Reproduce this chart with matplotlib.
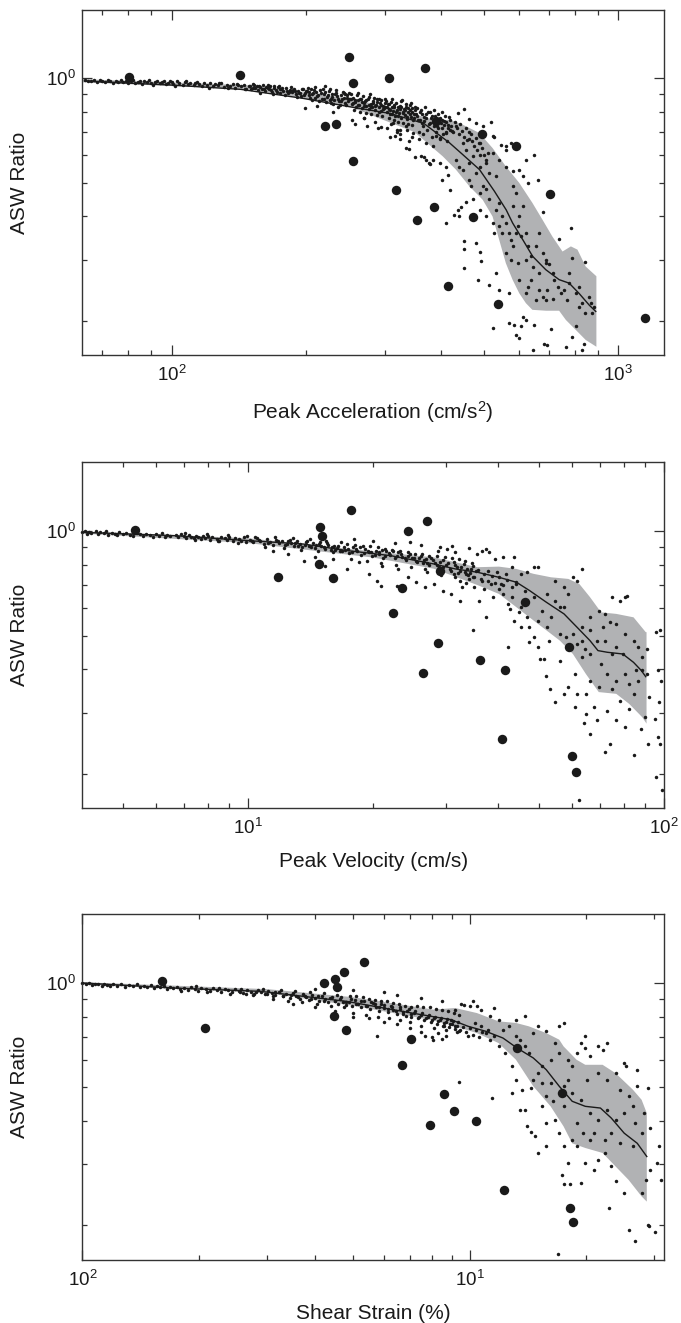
import matplotlib
matplotlib.use("Agg")
import matplotlib.pyplot as plt
from matplotlib.ticker import FixedLocator, FixedFormatter, NullFormatter

plt.rcParams['font.family'] = ['Liberation Sans', 'DejaVu Sans']
plt.rcParams['mathtext.default'] = 'regular'

# ---------------- data ----------------
# common y axis
y_lim = (0.159, 1.58)
y_major = [1.0]
y_major_labels = ['$10^0$']
y_minor = [0.2, 0.3, 0.4, 0.5, 0.6, 0.7, 0.8, 0.9]

# panel 1: peak acceleration
acc_xlim = (63.2, 1265)
acc_xticks = [100, 1000]
acc_xticklabels = ['$10^2$', '$10^3$']
acc_xminor = [70, 80, 90, 200, 300, 400, 500, 600, 700, 800, 900]
acc_big_x = [80.5, 142.6, 249.5, 254.6, 306, 368.5, 220.3, 232.9, 254.6, 318, 387, 354, 473, 390, 494, 591, 703, 416, 537, 1148]
acc_big_y = [1.007, 1.022, 1.154, 0.972, 1.0, 1.073, 0.730, 0.739, 0.579, 0.477, 0.427, 0.392, 0.399, 0.755, 0.690, 0.638, 0.463, 0.252, 0.224, 0.204]
acc_mean_x = [64, 100, 143, 197, 250, 308, 367, 419, 448, 489, 528, 561, 580, 611, 643, 688, 737, 776, 817, 861, 890]
acc_mean_y = [0.982, 0.957, 0.930, 0.876, 0.829, 0.793, 0.742, 0.652, 0.604, 0.546, 0.473, 0.418, 0.383, 0.343, 0.307, 0.281, 0.263, 0.257, 0.240, 0.222, 0.213]
acc_up_x = [63, 150, 250, 330, 391, 419, 448, 488, 523, 560, 600, 642, 676, 712, 750, 783, 810, 845, 893]
acc_up_y = [0.995, 0.955, 0.875, 0.81, 0.753, 0.761, 0.736, 0.697, 0.630, 0.558, 0.50, 0.438, 0.392, 0.350, 0.317, 0.328, 0.321, 0.287, 0.269]
acc_lo_x = [63, 150, 250, 350, 404.5, 433, 464, 497, 523, 541, 560, 580, 600, 621, 642, 689, 737, 763, 803, 845, 893]
acc_lo_y = [0.975, 0.93, 0.83, 0.70, 0.5965, 0.546, 0.489, 0.447, 0.40, 0.343, 0.2935, 0.2626, 0.2404, 0.225, 0.2153, 0.214, 0.214, 0.2013, 0.1884, 0.1763, 0.1685]
acc_dots = [
    (64, .99), (65, .98), (66, .985), (67, .993), (68, .978), (69, .988), (70, .982), (71, .975), (72, .99), (73, .98),
    (74, .972), (75, .986), (76, .979), (77, .99), (78, .974), (79, .984), (80, .968), (81, .98), (82, .988), (83, .972),
    (84, .978), (85, .985), (86, .966), (87, .98), (88, .975), (89, .987), (90, .97), (91, .96), (92, .978), (93, .983),
    (94, .968), (95, .975), (96, .984), (97, .962), (98, .972), (99, .98),
    (100, .975), (101, .962), (102, .95), (103, .98), (104, .968), (106, .958), (107, .975), (108, .985), (109, .965),
    (110, .972), (112, .955), (113, .97), (114, .978), (115, .962), (117, .95), (118, .968), (120, .958), (121, .94),
    (122, .972), (124, .948), (125, .962), (127, .955), (128, .972), (129, .968), (131, .945), (133, .958), (134, .938),
    (135, .95), (137, .965), (139, .94), (140, .965), (141, .955), (143, .948), (145, .96), (146, .93), (147, .935), (149, .952),
    (150, .95), (151, .932), (152, .965), (153, .958), (154, .94), (156, .925), (157, .948), (158, .91), (159, .935),
    (160, .955), (162, .92), (163, .942), (164, .96), (165, .93), (166, .95), (168, .915), (169, .9), (170, .938),
    (171, .925), (173, .945), (174, .95), (175, .91), (176, .932), (178, .92), (179, .895), (180, .94), (182, .905),
    (184, .928), (185, .945), (186, .915), (188, .935), (190, .9), (191, .885), (192, .922), (194, .91), (196, .93),
    (197, .935), (198, .895), (200, .918),
    (201, .92), (202, .94), (203, .895), (204, .88), (205, .93), (206, .865), (207, .905), (209, .88), (210, .945),
    (211, .915), (212, .835), (213, .895), (214, .86), (215, .925), (217, .87), (218, .935), (219, .9), (220, .95),
    (221, .912), (222, .855), (223, .885), (225, .92), (226, .93), (227, .875), (228, .85), (229, .9), (230, .845),
    (231, .865), (233, .91), (234, .925), (235, .888), (236, .83), (237, .86), (238, .84), (239, .895), (241, .875),
    (242, .915), (243, .905), (244, .9), (245, .85), (246, .838), (247, .88), (249, .87), (250, .91),
    (251, .87), (252, .9), (253, .845), (254, .76), (255, .88), (256, .81), (257, .855), (258, .74), (259, .83),
    (260, .895), (261, .865), (262, .905), (263, .84), (264, .8), (265, .875), (267, .82), (268, .89), (269, .85),
    (270, .77), (271, .86), (272, .795), (273, .835), (274, .73), (275, .87), (276, .885), (277, .815), (278, .9),
    (279, .845), (280, .79), (281, .83), (283, .862), (284, .88), (285, .81), (286, .75), (287, .84), (288, .785),
    (289, .855), (290, .72), (291, .825), (292, .875), (293, .85), (294, .865), (295, .805), (296, .78), (297, .835),
    (299, .82), (300, .87),
    (301, .83), (302, .86), (303, .8), (304, .72), (305, .845), (306, .77), (307, .815), (308, .68), (309, .79),
    (310, .855), (311, .83), (312, .87), (313, .805), (314, .76), (315, .84), (317, .78), (318, .85), (319, .81),
    (320, .7), (321, .825), (322, .75), (323, .795), (324, .69), (325, .835), (326, .86), (327, .77), (328, .865),
    (329, .8), (330, .745), (331, .815), (333, .785), (334, .845), (335, .83), (336, .71), (337, .765), (338, .74),
    (339, .8), (340, .66), (341, .81), (342, .84), (343, .775), (344, .85), (345, .82), (346, .735), (347, .76),
    (349, .79), (350, .83),
    (352, .79), (354, .82), (356, .76), (358, .7), (360, .8), (362, .81), (364, .745), (366, .69), (368, .775),
    (370, .825), (372, .79), (374, .71), (376, .74), (378, .8), (380, .77), (382, .68), (384, .75), (386, .81),
    (388, .78), (390, .7), (392, .73), (394, .79), (396, .76), (398, .675), (400, .745), (402, .8), (404, .72),
    (406, .69), (408, .755), (410, .78), (412, .7), (414, .66), (416, .735), (418, .775), (420, .71),
    (152, .94), (155, .952), (158, .945), (161, .93), (164, .938), (167, .925), (170, .948), (172, .915), (175, .93),
    (177, .94), (181, .92), (183, .912), (187, .928), (189, .918), (193, .905), (195, .89), (199, .908), (203, .915),
    (206, .9), (208, .925), (212, .89), (216, .905), (219, .875), (224, .895), (226, .868), (229, .885), (232, .9),
    (236, .875), (240, .86), (243, .88), (247, .895), (248, .86), (252, .875), (255, .85), (258, .865), (261, .84),
    (264, .87), (267, .855), (270, .835), (273, .865), (276, .84), (279, .825), (282, .85), (285, .835), (288, .87),
    (291, .8), (294, .84), (297, .815), (300, .85), (303, .825), (306, .845), (309, .81), (312, .79), (315, .825),
    (318, .8), (321, .78), (324, .815), (327, .83), (330, .795), (333, .81), (336, .775), (339, .82), (342, .79),
    (345, .8), (348, .77), (351, .81), (355, .78), (359, .76), (363, .79), (367, .755), (371, .77), (375, .8),
    (379, .745), (383, .78), (387, .73), (391, .765), (395, .72), (399, .77), (403, .76), (407, .735), (411, .75),
    (415, .72), (419, .76), (423, .73), (427, .7), (431, .75), (435, .72), (439, .69), (443, .74), (447, .705),
    (451, .68), (455, .72), (459, .665), (463, .7), (467, .69), (471, .66), (475, .64), (479, .675), (483, .62),
    (487, .65), (491, .6), (495, .63), (500, .6), (505, .57), (510, .61),
    (199, .82), (230, .80), (270, .77), (294, .726), (310, .74), (320, .71), (335, .629), (345, .68), (367, .595), (376, .569),
    (452, .814), (437, .796), (519, .748), (523, .681), (528, .678), (546, .644), (561, .640), (575, .652), (561, .623),
    (621, .583), (648, .600), (600, .546), (580, .540), (611, .522), (660, .510), (627, .499), (677, .413), (737, .344),
    (785, .370), (789, .303), (844, .295), (776, .274), (699, .292), (688, .293), (665, .274), (621, .300), (643, .287),
    (627, .251), (600, .263), (570, .240), (541, .246), (532, .274), (514, .254), (485, .263), (493, .297), (489, .317),
    (480, .335), (452, .339), (452, .323), (452, .284), (429, .405), (437, .418), (441, .400), (444, .427), (456, .441),
    (412, .383), (419, .478), (404, .510), (415, .528), (412, .557), (378, .568), (361, .596), (351, .593), (372, .583),
    (385, .583), (398, .570), (340, .625), (324, .667), (316, .681), (523, .191), (570, .197), (585, .195), (590, .182),
    (605, .193), (611, .205), (621, .201), (648, .195), (600, .178), (643, .165), (682, .172), (694, .170), (705, .189),
    (763, .168), (803, .193), (831, .165), (838, .172), (861, .234), (883, .219), (789, .180),
    (489, .468), (497, .490), (505, .479), (514, .448), (532, .418), (541, .438), (550, .400), (561, .383), (570, .358),
    (575, .343), (580, .328), (590, .358), (600, .400), (580, .428), (611, .428), (595, .3745), (606, .351), (621, .358),
    (627, .328), (638, .307), (654, .328), (665, .358), (677, .314), (688, .300), (713, .274), (719, .263), (731, .251),
    (744, .240), (756, .246), (769, .230), (803, .240), (817, .220), (831, .225), (844, .211), (867, .225), (874, .211),
    (817, .251), (776, .257), (694, .246), (665, .246), (677, .235), (654, .230), (688, .230), (713, .232), (621, .240),
    (638, .263), (595, .294), (575, .300), (561, .314), (550, .358), (541, .3745), (528, .358), (523, .383), (505, .400),
    (489, .418), (473, .448), (469, .490), (464, .510), (480, .533), (489, .557), (505, .583), (514, .533), (532, .522),
    (541, .583), (561, .557), (580, .490), (590, .468), (523, .609), (473, .596), (464, .570), (448, .546), (441, .557),
    (433, .583), (456, .623), (448, .652), (464, .667), (489, .652), (497, .728), (480, .745), (464, .762), (433, .728),
    (425, .704), (412, .697), (398, .667), (391, .681), (385, .637), (372, .652), (358, .667), (365, .728), (347, .697),
    (335, .728), (324, .712), (313, .745),
]

# panel 2: peak velocity
vel_xlim = (4.0, 100)
vel_xticks = [10, 100]
vel_xticklabels = ['$10^1$', '$10^2$']
vel_xminor = [5, 6, 7, 8, 9, 20, 30, 40, 50, 60, 70, 80, 90]
vel_big_x = [5.35, 14.9, 15.1, 17.7, 24.2, 27.0, 14.8, 11.8, 16.0, 23.5, 22.3, 28.9, 46.3, 28.7, 26.3, 36.2, 41.4, 59.2, 40.8, 60.1, 61.4]
vel_big_y = [1.009, 1.027, 0.972, 1.152, 1.0, 1.071, 0.805, 0.737, 0.732, 0.688, 0.580, 0.770, 0.627, 0.477, 0.391, 0.427, 0.399, 0.465, 0.252, 0.225, 0.203]
vel_mean_x = [4.0, 6.61, 10, 13.6, 17.3, 22.0, 28.0, 31.5, 35.6, 40.1, 44.2, 47.5, 52.2, 57.5, 61.8, 66.4, 69.4, 73.1, 79.6, 84.5, 88.2, 90.4]
vel_mean_y = [0.993, 0.972, 0.940, 0.919, 0.880, 0.851, 0.805, 0.779, 0.762, 0.737, 0.713, 0.675, 0.624, 0.578, 0.529, 0.484, 0.453, 0.448, 0.443, 0.419, 0.397, 0.381]
vel_up_x = [4.0, 10, 20, 28.0, 35.6, 40.1, 44.2, 48.6, 53.5, 58.9, 62.6, 66.4, 70.6, 76.8, 84.5, 90.4, 90.8]
vel_up_y = [1.0, 0.955, 0.875, 0.841, 0.788, 0.791, 0.779, 0.754, 0.737, 0.729, 0.705, 0.646, 0.584, 0.578, 0.565, 0.512, 0.512]
vel_lo_x = [4.0, 10, 20, 28.0, 35.6, 40.1, 44.2, 48.6, 52.2, 56.2, 60.4, 64.9, 69.7, 76.8, 82.5, 88.7, 90.8]
vel_lo_y = [0.985, 0.925, 0.84, 0.78, 0.70, 0.660, 0.604, 0.553, 0.518, 0.484, 0.443, 0.388, 0.344, 0.340, 0.318, 0.291, 0.279]
vel_dots = [
    (4.0, .995), (4.05, 1.005), (4.1, .985), (4.15, .998), (4.2, .99), (4.3, 1.002), (4.35, .982), (4.4, .993),
    (4.5, .987), (4.55, 1.0), (4.6, .978), (4.7, .992), (4.8, .985), (4.85, .975), (4.9, .996), (5.0, .983),
    (5.1, .99), (5.2, .978), (5.3, .972), (5.4, .988), (5.5, .98), (5.6, .97), (5.7, .985), (5.8, .975),
    (5.9, .965), (6.0, .982), (6.1, .97), (6.2, .988), (6.3, .962), (6.4, .976), (6.5, .968),
    (6.7, .975), (6.8, .962), (6.9, .98), (7.0, .968), (7.05, .99), (7.1, .958), (7.2, .975), (7.3, .965),
    (7.4, .955), (7.45, .945), (7.5, .972), (7.6, .96), (7.7, .95), (7.8, .968), (7.9, .957), (7.95, .985),
    (8.0, .97), (8.1, .945), (8.2, .962), (8.4, .952), (8.45, .935), (8.5, .94), (8.6, .965), (8.8, .955),
    (8.9, .945), (8.95, .975), (9.0, .96), (9.2, .935), (9.3, .955), (9.45, .925), (9.5, .948), (9.6, .94),
    (9.8, .96), (9.9, .93), (9.95, .97),
    (10.1, .945), (10.3, .93), (10.4, .965), (10.5, .955), (10.7, .935), (10.9, .92), (11.0, .9), (11.1, .948),
    (11.3, .93), (11.5, .915), (11.6, .96), (11.7, .945), (11.9, .928), (12.1, .94), (12.2, .895), (12.3, .912),
    (12.5, .935), (12.7, .925), (12.8, .955), (12.9, .905), (13.1, .94), (13.3, .918), (13.4, .885), (13.5, .9),
    (13.8, .932), (14.0, .91), (14.1, .95), (14.3, .925), (14.5, .895), (14.7, .875), (14.8, .92), (15.0, .905),
    (15.3, .89), (15.4, .94), (15.6, .915), (15.9, .9), (16.0, .87), (16.2, .885), (16.5, .91), (16.7, .93), (16.8, .88),
    (17.1, .885), (17.3, .92), (17.5, .865), (17.7, .83), (17.9, .9), (18.1, .915), (18.3, .875), (18.7, .855),
    (18.9, .91), (19.1, .89), (19.3, .82), (19.5, .87), (19.7, .905), (19.9, .85), (20.3, .88), (20.5, .9),
    (20.7, .86), (20.9, .81), (21.1, .84), (21.3, .89), (21.5, .875), (22.0, .855), (22.2, .885), (22.5, .835),
    (22.7, .8), (23.0, .87), (23.2, .88), (23.5, .845), (24.0, .825), (24.2, .87), (24.5, .86), (24.7, .79),
    (25.0, .835), (25.2, .86), (25.5, .815), (26.0, .85), (26.2, .86), (26.5, .825), (26.7, .78), (27.0, .81),
    (27.2, .85), (27.5, .84),
    (28.2, .81), (28.5, .85), (28.8, .79), (29.1, .75), (29.4, .825), (29.7, .845), (30.0, .8), (30.6, .78),
    (30.9, .84), (31.2, .815), (31.5, .74), (31.8, .79), (32.1, .83), (32.4, .77), (33.0, .805), (33.3, .82),
    (33.6, .78), (33.9, .73), (34.2, .76), (34.5, .81), (34.8, .795), (35.4, .77),
    (10.2, .935), (10.6, .945), (11.2, .925), (11.8, .935), (12.4, .92), (12.6, .945), (13.0, .925), (13.2, .91),
    (13.7, .915), (13.9, .94), (14.2, .9), (14.6, .915), (14.9, .93), (15.2, .9), (15.5, .925), (15.8, .885),
    (16.1, .91), (16.4, .895), (16.6, .875), (17.0, .9), (17.4, .89), (17.8, .87), (18.2, .89), (18.6, .9),
    (19.0, .865), (19.4, .88), (19.8, .87), (20.2, .855), (20.6, .87), (21.0, .885), (21.4, .85), (21.8, .865),
    (22.3, .875), (22.8, .85), (23.3, .86), (23.8, .835), (24.3, .85), (24.8, .84), (25.3, .82), (25.8, .84),
    (26.3, .81), (26.8, .83), (27.3, .8), (27.8, .825), (28.4, .8), (28.9, .815), (29.5, .79), (30.2, .81),
    (30.8, .77), (31.4, .8), (32.0, .76), (32.6, .79), (33.2, .765), (33.8, .75), (34.4, .78), (35.0, .74),
    (35.8, .775), (36.4, .73), (37.0, .755), (37.8, .72), (38.5, .745), (39.3, .71), (40.2, .74), (41.0, .7),
    (42.0, .725), (43.0, .69), (44.0, .715),
    (13.6, .823), (15.3, .796), (17.3, .779), (19.5, .754), (20.4, .721), (24.2, .737), (25.4, .713), (26.6, .690),
    (28.0, .705), (29.4, .675), (30.8, .660), (32.3, .631), (12.5, .86), (11.5, .875), (14.5, .845), (16.0, .83),
    (18.5, .815), (21.0, .795), (23.0, .78), (27.0, .765), (33.5, .71), (35.0, .69), (37.0, .68), (18.0, .95),
    (20.0, .935), (22.5, .925), (24.5, .93), (26.0, .915), (29.0, .9), (31.0, .905), (34.0, .895), (36.5, .88), (38.0, .87),
    (95.8, .512), (97.7, .518), (90.8, .458), (96.5, .397), (98.2, .371), (92.0, .332), (97.2, .322), (95.3, .288),
    (89.8, .291), (88.2, .270), (96.5, .255), (91.5, .244), (97.7, .244), (95.8, .196), (98.9, .180), (84.5, .226),
    (74.1, .244), (72.3, .231), (66.4, .261), (64.1, .280), (62.6, .168), (57.5, .340), (54.8, .322), (53.2, .351),
    (52.0, .384), (50.4, .429), (51.6, .429), (47.5, .479), (42.1, .463), (34.8, .518), (37.4, .565), (36.0, .631),
    (38.8, .646), (40.1, .682), (48.6, .788), (49.8, .788), (43.7, .845), (41.1, .841), (39.2, .832), (37.4, .889),
    (35.6, .860), (30.1, .889), (28.7, .880), (31.5, .870), (20.9, .697), (22.8, .697), (58.2, .495), (56.1, .424),
    (61.1, .388), (63.4, .434), (61.8, .474), (64.6, .458), (66.4, .443), (70.6, .415), (73.1, .388), (75.0, .351),
    (76.8, .371), (80.5, .388), (78.6, .325), (82.5, .308), (84.5, .340), (86.6, .371), (88.7, .434), (86.6, .463),
    (84.5, .484), (80.5, .506), (76.8, .541), (74.1, .547), (72.3, .578), (80.5, .646), (78.6, .631), (81.5, .652),
    (75.0, .646), (69.7, .591), (66.4, .565), (63.4, .529), (60.4, .506), (57.5, .604), (54.8, .631), (52.2, .660),
    (54.8, .721), (57.5, .690), (60.4, .737), (63.4, .779), (61.8, .721), (58.9, .660), (56.1, .604), (53.5, .565),
    (51.0, .591), (48.6, .646), (46.3, .675), (44.2, .705), (43.1, .646), (42.1, .618), (41.1, .660), (45.2, .604),
    (49.8, .553), (47.5, .529), (45.2, .529), (43.7, .553), (52.2, .529), (56.1, .506), (64.9, .340), (68.0, .311),
    (69.7, .355), (68.9, .285), (73.1, .304), (76.8, .285), (80.5, .273), (66.4, .371), (61.8, .340), (58.9, .355),
    (61.1, .311), (64.9, .298), (85.5, .397), (88.7, .397), (82.5, .363), (90.8, .388), (72.3, .484), (75.0, .443),
    (79.6, .443), (76.8, .463), (68.9, .484), (71.4, .529), (66.4, .518), (63.4, .484), (52.8, .484), (49.8, .463),
    (48.6, .495), (46.9, .565), (44.7, .584), (42.6, .598), (40.6, .705), (38.3, .705), (36.5, .721), (34.7, .737),
    (33.5, .754), (32.7, .690), (32.3, .721), (31.2, .754), (45.2, .754), (46.9, .762), (43.1, .788), (41.6, .754),
    (39.7, .762), (37.8, .770),
]

# panel 3: shear strain (tick labels printed as in the figure)
str_xlim = (0.01, 0.318)
str_xticks = [0.01, 0.1]
str_xticklabels = ['$10^2$', '$10^1$']
str_xminor = [0.02, 0.03, 0.04, 0.05, 0.06, 0.07, 0.08, 0.09, 0.2, 0.3]
str_big_x = [0.01603, 0.0207, 0.0422, 0.0448, 0.0454, 0.0473, 0.0533, 0.0446, 0.0481, 0.0708, 0.0669, 0.0861, 0.0911, 0.0791, 0.1042, 0.1328, 0.1737, 0.1226, 0.1819, 0.1852]
str_big_y = [1.016, 0.742, 1.0, 1.027, 0.972, 1.076, 1.152, 0.805, 0.732, 0.689, 0.580, 0.479, 0.428, 0.390, 0.399, 0.649, 0.481, 0.2533, 0.2244, 0.204]
str_mean_x = [0.01, 0.0172, 0.0288, 0.0482, 0.071, 0.0895, 0.0992, 0.110, 0.122, 0.1328, 0.1461, 0.1578, 0.1705, 0.1842, 0.1991, 0.2179, 0.2324, 0.251, 0.2713, 0.2871]
str_mean_y = [1.0, 0.967, 0.946, 0.885, 0.819, 0.784, 0.750, 0.726, 0.694, 0.649, 0.608, 0.5625, 0.504, 0.456, 0.441, 0.436, 0.408, 0.369, 0.345, 0.316]
str_up_x = [0.01, 0.03, 0.05, 0.0807, 0.0918, 0.1045, 0.1189, 0.1318, 0.1423, 0.1578, 0.1705, 0.175, 0.189, 0.1991, 0.2207, 0.2384, 0.2643, 0.2784, 0.2871]
str_up_y = [1.005, 0.96, 0.91, 0.838, 0.847, 0.819, 0.775, 0.767, 0.750, 0.717, 0.6865, 0.6565, 0.601, 0.581, 0.581, 0.5496, 0.4925, 0.4605, 0.4215]
str_lo_x = [0.01, 0.03, 0.05, 0.0807, 0.0918, 0.1045, 0.1189, 0.1318, 0.1461, 0.162, 0.175, 0.1842, 0.1991, 0.2207, 0.2384, 0.2576, 0.2784, 0.2871]
str_lo_y = [0.99, 0.935, 0.86, 0.78, 0.75, 0.717, 0.671, 0.601, 0.504, 0.441, 0.386, 0.345, 0.3345, 0.3236, 0.296, 0.2707, 0.2425, 0.2343]
str_dots = [
    (.0100, .998), (.0102, .99), (.0104, 1.0), (.0106, .985), (.0108, .995), (.011, .992), (.0112, .983), (.0114, .996),
    (.0116, .988), (.0118, .978), (.012, .99), (.0123, .982), (.0126, .993), (.0129, .976), (.0132, .985), (.0135, .98),
    (.0138, .99), (.0141, .972), (.0144, .983), (.0147, .975), (.015, .986), (.0153, .968), (.0156, .978), (.0159, .972),
    (.0162, .982), (.0165, .964), (.0168, .975), (.0171, .97),
    (.0175, .972), (.0179, .96), (.018, .95), (.0183, .968), (.0187, .955), (.0191, .975), (.0195, .962), (.0196, .978),
    (.0199, .95), (.0203, .966), (.0208, .958), (.021, .94), (.0213, .948), (.0218, .97), (.0223, .955), (.0225, .968),
    (.0228, .944), (.0233, .962), (.0238, .952), (.024, .93), (.0243, .94), (.0248, .96), (.0254, .948), (.0257, .962),
    (.026, .936), (.0266, .955), (.0272, .944), (.0275, .925), (.0278, .932), (.0284, .952), (.029, .94), (.0293, .958),
    (.0296, .928), (.0302, .948), (.0308, .935), (.031, .915), (.0314, .925),
    (.0322, .94), (.0325, .955), (.0329, .915), (.0336, .93), (.034, .89), (.0343, .905), (.035, .935), (.0355, .95),
    (.0357, .92), (.0364, .9), (.037, .88), (.0371, .928), (.0378, .91), (.0385, .895), (.0387, .94), (.0392, .922),
    (.04, .905), (.0404, .87), (.0408, .89), (.0416, .918), (.042, .935), (.0424, .898), (.0432, .88), (.0438, .86),
    (.044, .91), (.0448, .89), (.0455, .925), (.0456, .872), (.0464, .9), (.0472, .88), (.0473, .85), (.048, .865),
    (.0488, .88), (.049, .92), (.0497, .86), (.05, .82), (.0506, .895), (.051, .915), (.0515, .87), (.0524, .85),
    (.053, .91), (.0533, .885), (.054, .81), (.0542, .86), (.055, .9), (.0552, .84), (.0562, .875), (.057, .895),
    (.0572, .85), (.058, .8), (.0582, .83), (.059, .89), (.0592, .87), (.0603, .845), (.0612, .885), (.0614, .825),
    (.062, .79), (.0625, .86), (.0635, .875), (.0636, .835), (.0648, .815), (.0658, .87), (.066, .85), (.0662, .78),
    (.0672, .825), (.068, .86), (.0684, .805), (.0696, .84), (.07, .77), (.0705, .855), (.0708, .815),
    (.0725, .83), (.073, .86), (.074, .8), (.075, .75), (.0755, .82), (.076, .855), (.077, .79), (.0785, .81),
    (.079, .85), (.08, .78), (.081, .74), (.0815, .8), (.082, .84), (.083, .775), (.0845, .795), (.085, .835),
    (.086, .765), (.087, .73), (.0875, .785), (.088, .83), (.089, .76), (.0905, .775), (.091, .82), (.092, .75),
    (.093, .72), (.0935, .77), (.094, .81),
    (.0255, .94), (.0265, .93), (.028, .945), (.03, .93), (.0315, .94), (.033, .92), (.0345, .925), (.036, .91),
    (.0375, .92), (.039, .9), (.0405, .915), (.042, .89), (.0435, .905), (.045, .885), (.0465, .91), (.048, .88),
    (.0495, .9), (.051, .87), (.0525, .89), (.054, .86), (.0555, .88), (.057, .87), (.0585, .85), (.06, .865),
    (.0615, .84), (.063, .855), (.0645, .83), (.066, .84), (.0675, .815), (.069, .83), (.0705, .8), (.072, .82),
    (.0735, .79), (.075, .81), (.0765, .78), (.078, .8), (.0795, .77), (.081, .79), (.0825, .76), (.084, .78),
    (.0855, .75), (.087, .77), (.0885, .745), (.09, .76), (.0915, .735), (.093, .75), (.0945, .73), (.096, .745),
    (.098, .72), (.1, .74), (.102, .71), (.104, .73), (.106, .7), (.108, .72),
    (.031, .9), (.035, .87), (.04, .85), (.045, .83), (.05, .8), (.055, .79), (.06, .77), (.065, .76), (.07, .74),
    (.075, .72), (.08, .7), (.085, .69), (.04, .96), (.05, .955), (.06, .94), (.065, .925), (.075, .905), (.085, .89),
    (.095, .87), (.1, .86),
    (.0577, .702), (.1143, .466), (.0942, .520), (.1284, .482), (.1352, .431), (.1388, .431), (.1405, .386), (.148, .361),
    (.1499, .323), (.1578, .338), (.1442, .373), (.1578, .395), (.175, .338), (.1796, .302), (.189, .338), (.1991, .302),
    (.194, .265), (.175, .264), (.182, .264), (.1736, .280), (.1697, .166), (.2096, .289), (.2151, .309), (.2236, .323),
    (.2324, .296), (.2384, .268), (.2295, .224), (.251, .248), (.2576, .194), (.2677, .180), (.2784, .248), (.2856, .2707),
    (.2931, .289), (.3086, .338), (.3126, .2707), (.3047, .302), (.2916, .199), (.3007, .192), (.2893, .201), (.2893, .498),
    (.2931, .382), (.2713, .504), (.251, .588), (.2543, .575), (.2713, .5625), (.2265, .671), (.2207, .642), (.2151, .657),
    (.1991, .649), (.2042, .614), (.2017, .526), (.2151, .550), (.2265, .526), (.2384, .550), (.2446, .4925), (.2576, .471),
    (.2643, .441), (.251, .4215), (.2384, .403), (.2265, .431), (.2151, .403), (.2042, .4215), (.194, .461), (.1842, .482),
    (.175, .441), (.1662, .403), (.1705, .369), (.189, .395), (.1965, .369), (.1842, .353), (.2096, .369), (.2236, .353),
    (.2324, .369), (.2446, .345), (.2643, .338), (.2784, .369), (.2677, .395), (.282, .4215), (.2042, .353), (.175, .767),
    (.1705, .750), (.1499, .750), (.1461, .717), (.1578, .725), (.1662, .671), (.1705, .628), (.162, .601), (.1538, .575),
    (.1499, .550), (.1461, .526), (.1442, .498), (.1538, .515), (.162, .515), (.1578, .471), (.164, .456), (.1538, .441),
    (.1796, .526), (.175, .504), (.1842, .575), (.1796, .601), (.189, .628), (.194, .671), (.1991, .702), (.1423, .628),
    (.1388, .657), (.1352, .686), (.1318, .702), (.1284, .575), (.1318, .526), (.137, .4925), (.1235, .628), (.1189, .657),
    (.1158, .702), (.1128, .686), (.110, .717), (.122, .734), (.1268, .750), (.1318, .784), (.1388, .801), (.1189, .784),
    (.1128, .801), (.1158, .847), (.1072, .838), (.1045, .856), (.1018, .885), (.0967, .866), (.0918, .838), (.0895, .784),
    (.0859, .750), (.0829, .717), (.0807, .686), (.0767, .702), (.0872, .702), (.0942, .725), (.0992, .702), (.1031, .767),
    (.1072, .750), (.1114, .734),
]

panels = [
    dict(pos=[0.1211, 0.7313, 0.8539, 0.2615], xlim=acc_xlim, xticks=acc_xticks, xlabels=acc_xticklabels,
         xminor=acc_xminor, dots=acc_dots, bx=acc_big_x, by=acc_big_y, mx=acc_mean_x, my=acc_mean_y,
         ux=acc_up_x, uy=acc_up_y, lx=acc_lo_x, ly=acc_lo_y,
         xlabel='Peak Acceleration (cm/s$^2$)'),
    dict(pos=[0.1211, 0.3890, 0.8539, 0.2615], xlim=vel_xlim, xticks=vel_xticks, xlabels=vel_xticklabels,
         xminor=vel_xminor, dots=vel_dots, bx=vel_big_x, by=vel_big_y, mx=vel_mean_x, my=vel_mean_y,
         ux=vel_up_x, uy=vel_up_y, lx=vel_lo_x, ly=vel_lo_y,
         xlabel='Peak Velocity (cm/s)'),
    dict(pos=[0.1211, 0.0476, 0.8539, 0.2615], xlim=str_xlim, xticks=str_xticks, xlabels=str_xticklabels,
         xminor=str_xminor, dots=str_dots, bx=str_big_x, by=str_big_y, mx=str_mean_x, my=str_mean_y,
         ux=str_up_x, uy=str_up_y, lx=str_lo_x, ly=str_lo_y,
         xlabel='Shear Strain (%)'),
]

fig = plt.figure(figsize=(6.81, 13.23), dpi=100)
ink = '#1a1a1a'
edge = '#333333'

for p in panels:
    ax = fig.add_axes(p['pos'])
    ax.set_xscale('log')
    ax.set_yscale('log')

    # shaded band (upper edge left->right, lower edge right->left)
    poly_x = list(p['ux']) + list(p['lx'])[::-1]
    poly_y = list(p['uy']) + list(p['ly'])[::-1]
    ax.fill(poly_x, poly_y, color='#b1b2b4', lw=0, zorder=1)

    dx, dy = zip(*p['dots'])
    ax.plot(dx, dy, 'o', ms=2.5, color=ink, mec='none', zorder=2, clip_on=False)
    ax.plot(p['mx'], p['my'], '-', color=ink, lw=1.0, zorder=3)
    ax.plot(p['bx'], p['by'], 'o', ms=6.8, color=ink, mec='none', zorder=4)

    ax.set_xlim(p['xlim'])
    ax.set_ylim(y_lim)

    ax.xaxis.set_major_locator(FixedLocator(p['xticks']))
    ax.xaxis.set_major_formatter(FixedFormatter(p['xlabels']))
    ax.xaxis.set_minor_locator(FixedLocator(p['xminor']))
    ax.xaxis.set_minor_formatter(NullFormatter())
    ax.yaxis.set_major_locator(FixedLocator(y_major))
    ax.yaxis.set_major_formatter(FixedFormatter(y_major_labels))
    ax.yaxis.set_minor_locator(FixedLocator(y_minor))
    ax.yaxis.set_minor_formatter(NullFormatter())

    ax.tick_params(which='both', direction='in', top=True, right=True, color=edge, width=0.9)
    ax.tick_params(which='major', length=7)
    ax.tick_params(which='minor', length=3.3)
    ax.tick_params(axis='x', which='major', labelsize=13.5, pad=7, labelcolor=ink)
    ax.tick_params(axis='y', which='major', labelsize=13.5, pad=5, labelcolor=ink)
    for s in ax.spines.values():
        s.set_linewidth(1.0)
        s.set_color(edge)

    ax.set_xlabel(p['xlabel'], fontsize=15, color=ink, labelpad=10)
    ax.set_ylabel('ASW Ratio', fontsize=15, color=ink, labelpad=12)

fig.savefig('out.png', dpi=100)
